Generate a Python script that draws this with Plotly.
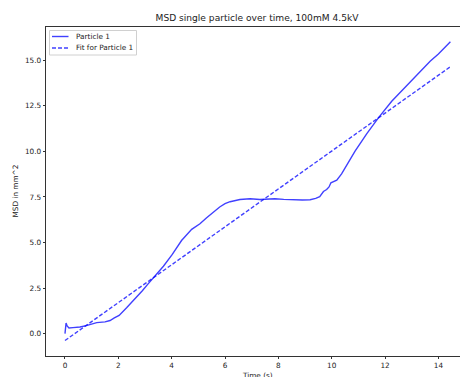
import plotly.graph_objects as go

time_s = [0.0, 0.04, 0.08, 0.15, 0.3, 0.56, 0.8, 0.94, 1.19, 1.5, 1.69, 1.85, 2.03, 2.31, 2.6, 2.9, 3.1, 3.31, 3.69, 4.01, 4.37,
          4.75, 5.06, 5.3, 5.56, 5.8, 6.0, 6.19, 6.56, 6.94, 7.31, 7.6, 7.87, 8.2, 8.56, 8.9, 9.19, 9.4, 9.55, 9.69,
          9.81, 9.9, 9.97, 10.1, 10.19, 10.37, 10.62, 10.87, 11.31, 11.75, 12.25, 12.81, 13.31, 13.69, 14.0, 14.45]
msd = [0.0, 0.58, 0.42, 0.31, 0.33, 0.36, 0.44, 0.5, 0.6, 0.64, 0.72, 0.86, 1.0, 1.42, 1.85, 2.35, 2.7, 3.05, 3.7, 4.32, 5.11,
       5.72, 6.03, 6.35, 6.67, 6.95, 7.13, 7.24, 7.36, 7.4, 7.36, 7.37, 7.4, 7.37, 7.34, 7.33, 7.35, 7.42, 7.52, 7.8,
       7.91, 8.05, 8.28, 8.36, 8.42, 8.77, 9.41, 10.0, 10.96, 11.84, 12.75, 13.61, 14.36, 14.95, 15.35, 16.02]

fit_time = [0.0, 14.45]
fit_msd = [-0.38, 14.65]

series_names = ["Particle 1", "Fit for Particle 1"]

line_color = "rgba(0,0,255,0.75)"
font_family = "DejaVu Sans"
FS = 7.3

W, H = 460, 377
ML, MR, MT, MB = 46, 0, 27, 21
PW, PH = W - ML - MR, H - MT - MB


def px_x(p):
    return (p - ML) / PW


def px_y(p):
    return 1 - (p - MT) / PH


fig = go.Figure()
fig.add_trace(go.Scatter(x=time_s, y=msd, mode="lines", name=series_names[0],
                         line=dict(color=line_color, width=1.4)))
fig.add_trace(go.Scatter(x=fit_time, y=fit_msd, mode="lines", name=series_names[1],
                         line=dict(color=line_color, width=1.4, dash="4px,2px")))

# legend drawn to match the compact reference legend
shapes = [
    dict(type="rect", xref="paper", yref="paper", x0=px_x(49.5), x1=px_x(136.5), y0=px_y(55), y1=px_y(30.5),
         line=dict(color="#d0d0d0", width=1), fillcolor="rgba(255,255,255,0.8)", layer="above"),
    dict(type="line", xref="paper", yref="paper", x0=px_x(52), x1=px_x(68.5), y0=px_y(36.5), y1=px_y(36.5),
         line=dict(color=line_color, width=1.4), layer="above"),
    dict(type="line", xref="paper", yref="paper", x0=px_x(52), x1=px_x(68.5), y0=px_y(48), y1=px_y(48),
         line=dict(color=line_color, width=1.4, dash="4px,2px"), layer="above"),
]

annotations = [
    dict(text=series_names[0], xref="paper", yref="paper", x=px_x(73.5), y=px_y(36.5),
         xanchor="left", yanchor="middle", showarrow=False, font=dict(size=FS, color="#222")),
    dict(text=series_names[1], xref="paper", yref="paper", x=px_x(73.5), y=px_y(48),
         xanchor="left", yanchor="middle", showarrow=False, font=dict(size=FS, color="#222")),
    dict(text="Time (s)", xref="paper", yref="paper", x=px_x(257), y=px_y(368.5),
         xanchor="center", yanchor="top", showarrow=False, font=dict(size=FS, color="#222")),
    dict(text="MSD in mm^2", xref="paper", yref="paper", x=px_x(15), y=0.5,
         xanchor="center", yanchor="middle", textangle=-90, showarrow=False,
         font=dict(size=FS, color="#222")),
]

fig.update_layout(
    width=W, height=H,
    margin=dict(l=ML, r=MR, t=MT, b=MB),
    paper_bgcolor="white", plot_bgcolor="white",
    font=dict(family=font_family, size=FS, color="#222"),
    showlegend=False,
    title=dict(text="MSD single particle over time, 100mM 4.5kV", x=257 / W, xanchor="center",
               y=1 - 18 / H, yanchor="middle", font=dict(size=9.1, color="#222")),
    xaxis=dict(range=[-0.712, 14.81], tickvals=[0, 2, 4, 6, 8, 10, 12, 14],
               showgrid=False, zeroline=False, showline=True, linecolor="#333", linewidth=0.8,
               mirror=True, ticks="outside", ticklen=2.5, tickwidth=0.8, tickcolor="#333",
               tickfont=dict(size=FS, color="#222")),
    yaxis=dict(range=[-1.23, 16.83], tickvals=[0, 2.5, 5, 7.5, 10, 12.5, 15], tickformat=".1f",
               showgrid=False, zeroline=False, showline=True, linecolor="#333", linewidth=0.8,
               mirror=False, ticks="outside", ticklen=2.5, tickwidth=0.8, tickcolor="#333",
               tickfont=dict(size=FS, color="#222")),
    shapes=shapes,
    annotations=annotations,
)

fig.write_html("out.html")
